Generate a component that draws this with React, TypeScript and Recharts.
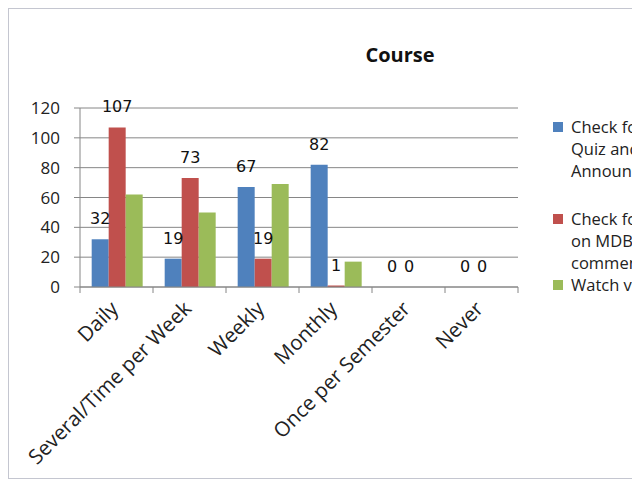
import React from "react";
import { BarChart, Bar, XAxis, YAxis, CartesianGrid, LabelList, Legend } from "recharts";

const categories = ["Daily", "Several/Time per Week", "Weekly", "Monthly", "Once per Semester", "Never"];
const quizAnnouncements = [32, 19, 67, 82, 0, 0];
const mdbPosts = [107, 73, 19, 1, 0, 0];
const watchVideos = [62, 50, 69, 17, 0, 0];
const yTicks = [0, 20, 40, 60, 80, 100, 120];
const seriesNames = [
  "Check for Quiz and Announcements",
  "Check for posts on MDB and comments",
  "Watch videos",
];
const legendLines = [
  ["Check for", "Quiz and", "Announcements"],
  ["Check for posts", "on MDB and", "comments"],
  ["Watch videos"],
];
const colors = ["#4F81BD", "#C0504D", "#9BBB59"];

const data = categories.map((c, i) => ({
  name: c,
  quiz: quizAnnouncements[i],
  mdb: mdbPosts[i],
  videos: watchVideos[i],
}));

const AXIS_FONT = "'Open Sans', sans-serif";
const LABEL_FONT = "'DejaVu Sans', sans-serif";
const GRAY = "#868686";
const legendTops = [0, 92, 158];

const XTick = (props: any) => {
  const { x, y, payload, index, visibleTicksCount } = props;
  const half = payload && payload.offset ? payload.offset : 36.5;
  const last = index === visibleTicksCount - 1;
  return (
    <g>
      <line x1={x - half} x2={x - half} y1={y} y2={y + 6} stroke={GRAY} />
      {last && <line x1={x + half} x2={x + half} y1={y} y2={y + 6} stroke={GRAY} />}
      <text
        transform={`translate(${x + 3},${y + 23}) rotate(-45)`}
        textAnchor="end"
        fontFamily={AXIS_FONT}
        fontSize={20.5}
        fill="#222"
      >
        {payload.value}
      </text>
    </g>
  );
};

const renderValueLabel = (p: any) => {
  const { x, y, width, value } = p;
  return (
    <text
      x={Number(x) + Number(width) / 2}
      y={Number(y) - 15}
      textAnchor="middle"
      fontFamily={LABEL_FONT}
      fontSize={16}
      fill="#111"
    >
      {value}
    </text>
  );
};

const LegendContent = () => (
  <div style={{ position: "relative", fontFamily: AXIS_FONT, fontSize: 16.5, color: "#222", whiteSpace: "nowrap" }}>
    {legendLines.map((lines, i) => (
      <div key={seriesNames[i]} style={{ position: "absolute", left: 0, top: legendTops[i] }}>
        <div
          style={{
            position: "absolute",
            left: 0,
            top: 6,
            width: 10,
            height: 10,
            background: colors[i],
          }}
        />
        <div style={{ marginLeft: 18, lineHeight: "22px" }}>
          {lines.map((l) => (
            <div key={l}>{l}</div>
          ))}
        </div>
      </div>
    ))}
  </div>
);

export default function App() {
  return (
    <div style={{ width: 632, height: 471, overflow: "hidden", position: "relative" }}>
      <div
        style={{
          position: "absolute",
          left: 0,
          top: 0,
          width: 780,
          height: 469,
          border: "1px solid #c4c6d0",
          background: "#fff",
        }}
      >
        <div
          style={{
            position: "absolute",
            left: 0,
            top: 35,
            width: 782,
            textAlign: "center",
            fontFamily: AXIS_FONT,
            fontWeight: 700,
            fontSize: 20,
            lineHeight: "22px",
            color: "#111",
          }}
        >
          Course
        </div>
        <BarChart
          width={780}
          height={469}
          data={data}
          margin={{ top: 99, left: 11, right: 271, bottom: 41 }}
          barGap={0}
          barCategoryGap="16%"
        >
          <CartesianGrid vertical={false} stroke={GRAY} />
          <XAxis
            dataKey="name"
            interval={0}
            height={150}
            tickLine={false}
            tickSize={0}
            tickMargin={0}
            stroke={GRAY}
            tick={<XTick />}
          />
          <YAxis
            width={60}
            domain={[0, 120]}
            ticks={yTicks}
            tickSize={6}
            tickMargin={14}
            stroke={GRAY}
            tick={{ fontFamily: AXIS_FONT, fontSize: 17, fill: "#222" }}
          />
          <Legend
            layout="vertical"
            align="center"
            verticalAlign="middle"
            wrapperStyle={{ position: "absolute", left: 544, top: 107, width: 300 }}
            content={<LegendContent />}
          />
          <Bar dataKey="quiz" name={seriesNames[0]} fill={colors[0]} minPointSize={0.01} isAnimationActive={false}>
            <LabelList dataKey="quiz" content={renderValueLabel} />
          </Bar>
          <Bar dataKey="mdb" name={seriesNames[1]} fill={colors[1]} minPointSize={0.01} isAnimationActive={false}>
            <LabelList dataKey="mdb" content={renderValueLabel} />
          </Bar>
          <Bar dataKey="videos" name={seriesNames[2]} fill={colors[2]} isAnimationActive={false} />
        </BarChart>
      </div>
    </div>
  );
}
